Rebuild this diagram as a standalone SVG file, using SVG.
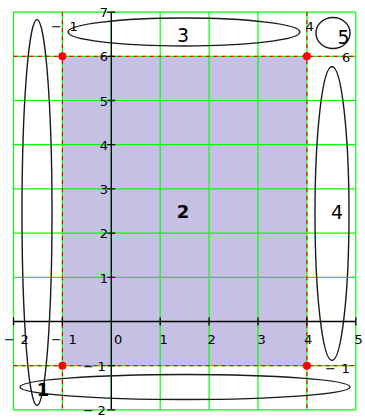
<svg xmlns="http://www.w3.org/2000/svg" width="365" height="419" viewBox="0 0 365 419">
<style>
.grid{stroke:#00ff00;stroke-width:1.2;fill:none}
.red{stroke:#ff0000;stroke-width:1.2;stroke-dasharray:4 4;fill:none}
.ax{stroke:#000;stroke-width:1.3;fill:none}
.sh{stroke:#1a1a1a;stroke-width:1.4;fill:none}
.t{font-family:"DejaVu Sans",sans-serif;font-size:13px;fill:#000}
.ty{font-family:"DejaVu Sans",sans-serif;font-size:13px;fill:#000;text-anchor:end}
.big{font-family:"DejaVu Sans",sans-serif;font-size:19px;fill:#000;text-anchor:middle}
.bold{font-family:"DejaVu Sans",sans-serif;font-size:18px;font-weight:bold;fill:#000;text-anchor:middle}
.dot{fill:#ff0000}
</style>
<rect width="365" height="419" fill="#fff"/>
<g id="node-2">
<rect x="62.4" y="56.3" width="244.5" height="309.4" fill="#c6c0e4"/>
</g>
<g id="grid">
<path class="grid" d="M13.5 12.1V409.9M62.4 12.1V409.9M111.3 12.1V409.9M160.2 12.1V409.9M209.1 12.1V409.9M258 12.1V409.9M306.9 12.1V409.9M355.8 12.1V409.9"/>
<path class="grid" d="M13.5 12.1H355.8M13.5 56.3H355.8M13.5 100.5H355.8M13.5 144.7H355.8M13.5 188.9H355.8M13.5 233.1H355.8M13.5 277.3H355.8M13.5 321.5H355.8M13.5 365.7H355.8M13.5 409.9H355.8"/>
<path class="red" d="M62.4 12.1V409.9M306.9 12.1V409.9M13.5 56.3H355.8M13.5 365.7H355.8"/>
</g>
<g id="axes">
<path class="ax" d="M13.5 321.5H355.8M111.3 12.1V409.9"/>
<path class="ax" d="M13.5 317.5v8M62.4 317.5v8M160.2 317.5v8M209.1 317.5v8M258 317.5v8M306.9 317.5v8M355.8 317.5v8"/>
<path class="ax" d="M107.3 12.1h8M107.3 56.3h8M107.3 100.5h8M107.3 144.7h8M107.3 188.9h8M107.3 233.1h8M107.3 277.3h8M107.3 365.7h8M107.3 409.9h8"/>
</g>
<g id="node-1">
<ellipse class="sh" cx="37" cy="212.5" rx="15" ry="193"/>
<ellipse class="sh" cx="185" cy="387" rx="165" ry="12.5"/>
<text class="bold" x="43" y="396" font-size="17">1</text>
</g>
<g id="node-3">
<ellipse class="sh" cx="184" cy="32" rx="116" ry="14"/>
<text class="big" x="183" y="42">3</text>
</g>
<g id="node-4">
<ellipse class="sh" cx="332" cy="213.5" rx="17" ry="147"/>
<text class="big" x="337" y="219">4</text>
</g>
<g id="node-5">
<ellipse class="sh" cx="333" cy="33" rx="17" ry="15.5"/>
<text class="big" x="343.5" y="44">5</text>
</g>
<text class="bold" x="183" y="218">2</text>
<g id="dots">
<circle class="dot" cx="62.4" cy="56.3" r="4"/>
<circle class="dot" cx="306.9" cy="56.3" r="4"/>
<circle class="dot" cx="62.4" cy="365.7" r="4"/>
<circle class="dot" cx="306.9" cy="365.7" r="4"/>
</g>
<g id="labels">
<text class="ty" x="108" y="17">7</text>
<text class="ty" x="108" y="61">6</text>
<text class="ty" x="108" y="105.5">5</text>
<text class="ty" x="108" y="149.5">4</text>
<text class="ty" x="108" y="194">3</text>
<text class="ty" x="108" y="238">2</text>
<text class="ty" x="108" y="282.5">1</text>
<text class="t" x="83 97.5" y="371">−1</text>
<text class="t" x="83 97.5" y="415">−2</text>
<text class="t" x="4 20.5" y="344">−2</text>
<text class="t" x="51 68.5" y="344">−1</text>
<text class="t" x="114" y="344">0</text>
<text class="t" x="159.5" y="344">1</text>
<text class="t" x="207.5" y="344">2</text>
<text class="t" x="257.5" y="344">3</text>
<text class="t" x="304" y="344">4</text>
<text class="t" x="354.5" y="344">5</text>
<text class="t" x="51 69.5" y="31">−1</text>
<text class="t" x="305.5" y="31">4</text>
<text class="t" x="342" y="61.5">6</text>
<text class="t" x="325 341.5" y="373">−1</text>
</g>
</svg>
